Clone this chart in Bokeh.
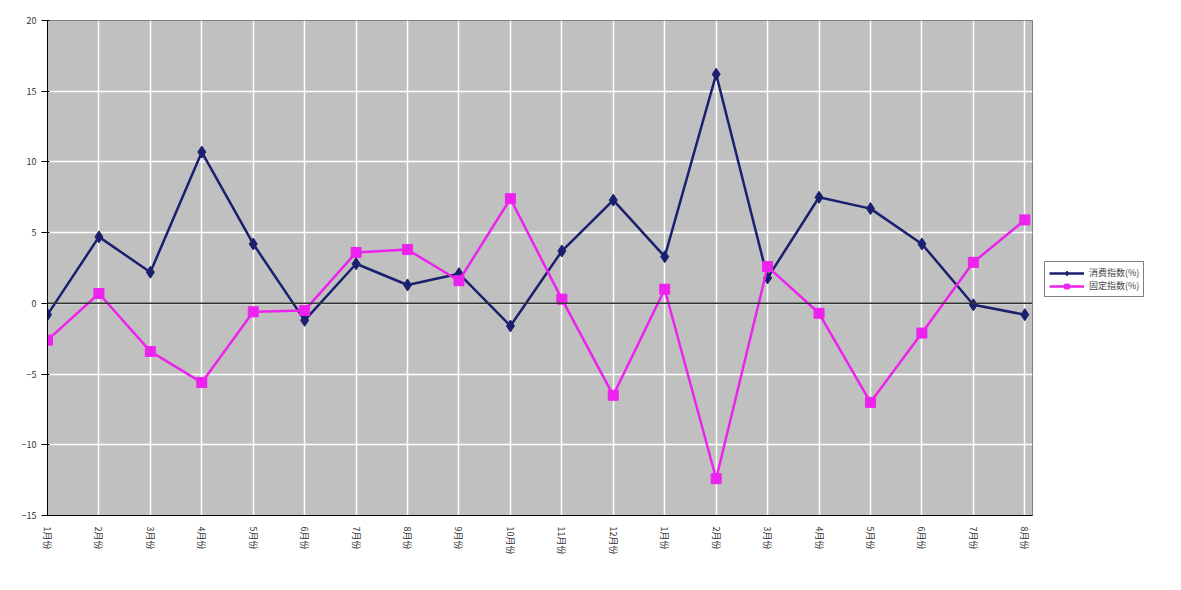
import math
from bokeh.plotting import figure
from bokeh.models import Span, Legend, FixedTicker
from bokeh.embed import file_html
from bokeh.resources import INLINE

labels = ["1月份", "2月份", "3月份", "4月份", "5月份", "6月份", "7月份", "8月份", "9月份", "10月份",
          "11月份", "12月份", "1月份", "2月份", "3月份", "4月份", "5月份", "6月份", "7月份", "8月份"]
blue = [-0.8, 4.7, 2.2, 10.7, 4.2, -1.2, 2.8, 1.3, 2.1, -1.6,
        3.7, 7.3, 3.3, 16.2, 1.8, 7.5, 6.7, 4.2, -0.1, -0.8]
pink = [-2.6, 0.7, -3.4, -5.6, -0.6, -0.5, 3.6, 3.8, 1.6, 7.4,
        0.3, -6.5, 1.0, -12.4, 2.6, -0.7, -7.0, -2.1, 2.9, 5.9]
xs = list(range(len(labels)))

p = figure(frame_width=985, frame_height=495, x_range=(0, 19.15), y_range=(-15, 20),
           output_backend="svg", toolbar_location=None,
           min_border_left=47, min_border_top=20, min_border_bottom=8, min_border_right=5)
p.background_fill_color = "#c0c0c0"
p.border_fill_color = "white"
p.outline_line_color = "#808080"
p.xgrid.ticker = FixedTicker(ticks=xs)
p.grid.grid_line_color = "white"
p.grid.grid_line_width = 1.5
p.yaxis.ticker = FixedTicker(ticks=[-15, -10, -5, 0, 5, 10, 15, 20])
p.xaxis.ticker = FixedTicker(ticks=xs)
p.xaxis.major_label_overrides = {i: l for i, l in enumerate(labels)}
p.xaxis.major_label_orientation = -math.pi / 2
p.axis.major_label_text_font = "Noto Sans CJK SC"
p.axis.major_label_text_font_size = "9px"
p.axis.major_label_text_color = "#333333"
p.axis.axis_line_color = "black"
p.axis.minor_tick_line_color = None
p.xaxis.major_tick_line_color = None

p.add_layout(Span(location=0, dimension="width", line_color="#333333", line_width=1.5))

r1 = p.line(xs, blue, line_color="#1a1f6e", line_width=2.5)
s1 = p.scatter(xs, blue, marker="diamond", size=12, color="#1a1f6e")
r2 = p.line(xs, pink, line_color="#ee22ee", line_width=2.5)
s2 = p.scatter(xs, pink, marker="square", size=10, color="#ee22ee")

legend = Legend(items=[("消费指数(%)", [r1, s1]), ("固定指数(%)", [r2, s2])],
                location=(12, 218), label_text_font="Noto Sans CJK SC",
                label_text_font_size="9px", border_line_color="black",
                glyph_width=35, spacing=0, padding=4, label_height=12, glyph_height=12)
p.add_layout(legend, "right")

open("out.html", "w").write(file_html(p, INLINE))
